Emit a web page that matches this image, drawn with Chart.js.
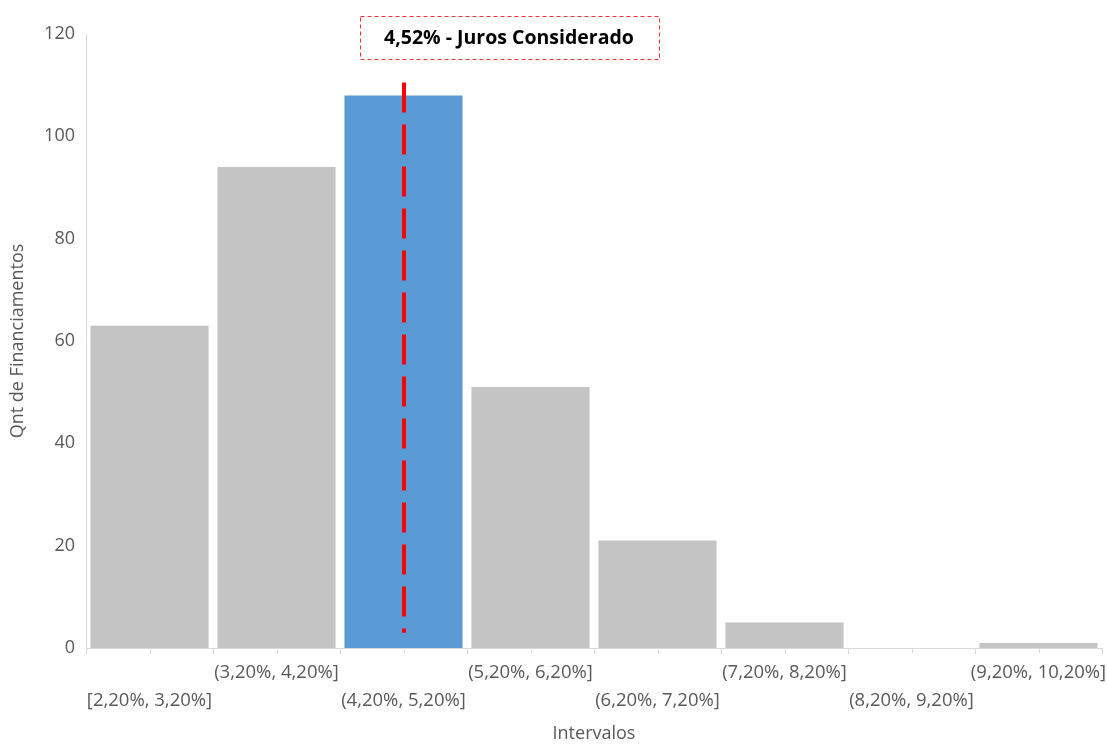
<!DOCTYPE html>
<html>
<head>
<meta charset="utf-8">
<script src="https://cdn.jsdelivr.net/npm/chart.js@4.4.1/dist/chart.umd.min.js"></script>
<style>
  html, body { margin: 0; padding: 0; background: #fff; }
  #wrap { width: 1107px; height: 745px; position: relative; }
</style>
</head>
<body>
<div id="wrap"><canvas id="histChart"></canvas></div>
<script>
// histogram of financing rates
const intervalLabels = [
  "[2,20%, 3,20%]", "(3,20%, 4,20%]", "(4,20%, 5,20%]", "(5,20%, 6,20%]",
  "(6,20%, 7,20%]", "(7,20%, 8,20%]", "(8,20%, 9,20%]", "(9,20%, 10,20%]"
];
const binStart = [2.2, 3.2, 4.2, 5.2, 6.2, 7.2, 8.2, 9.2];
const counts = [63, 94, 108, 51, 21, 5, 0, 1];
const yTicks = [0, 20, 40, 60, 80, 100, 120];

// rate used in the analysis and the span of its marker line
const jurosConsiderado = 4.52;
const markerRange = [3, 110.5];

const grayBar = "#C4C4C4";
const blueBar = "#5B9BD5";
const textGray = "#595959";
const fontFamily = "'Open Sans', sans-serif";

// find the interval that holds the considered rate
var highlightIdx = 0;
binStart.forEach(function(start, i) {
  if (jurosConsiderado > start) highlightIdx = i;
});

const barColors = counts.map(function(v, i) {
  return i === highlightIdx ? blueBar : grayBar;
});

// red dashed line over the highlighted bar, plus the boxed caption
const markerPlugin = {
  id: "marker",
  afterDatasetsDraw: function(chart) {
    const ctx = chart.ctx;
    const x = chart.scales.x;
    const y = chart.scales.y;
    const px = Math.round(x.getPixelForValue(highlightIdx));

    ctx.save();
    ctx.strokeStyle = "#FF0000";
    ctx.lineWidth = 4;
    ctx.setLineDash([30, 12]);
    ctx.beginPath();
    ctx.moveTo(px, y.getPixelForValue(markerRange[1]));
    ctx.lineTo(px, y.getPixelForValue(markerRange[0]));
    ctx.stroke();

    // caption box
    ctx.setLineDash([4, 3]);
    ctx.lineWidth = 1;
    ctx.strokeStyle = "#F03030";
    ctx.strokeRect(360.5, 16.5, 299, 43);
    ctx.fillStyle = "#000";
    ctx.font = "bold 19.5px " + fontFamily;
    ctx.textAlign = "center";
    ctx.textBaseline = "middle";
    ctx.fillText(jurosConsiderado.toFixed(2).replace(".", ",") + "% - Juros Considerado", 509, 38);
    ctx.restore();
  },
  // small ticks under the axis at each interval centre
  afterDraw: function(chart) {
    const ctx = chart.ctx;
    const x = chart.scales.x;
    const bottom = chart.chartArea.bottom;
    ctx.save();
    ctx.strokeStyle = "#D9D9D9";
    ctx.lineWidth = 1;
    intervalLabels.forEach(function(l, i) {
      const px = Math.round(x.getPixelForValue(i)) + 0.5;
      ctx.beginPath();
      ctx.moveTo(px, bottom);
      ctx.lineTo(px, bottom + 5);
      ctx.stroke();
    });
    ctx.restore();
  }
};

const chart = new Chart(document.getElementById("histChart"), {
  type: "bar",
  data: {
    labels: intervalLabels,
    datasets: [{
      data: counts,
      backgroundColor: barColors,
      barPercentage: 0.93,
      categoryPercentage: 1.0
    }]
  },
  options: {
    responsive: true,
    maintainAspectRatio: false,
    animation: false,
    layout: { padding: { top: 34, right: 5, left: 0, bottom: 0 } },
    plugins: {
      legend: { display: false },
      tooltip: { enabled: false }
    },
    scales: {
      x: {
        offset: true,
        grid: {
          offset: true,
          drawOnChartArea: false,
          drawTicks: true,
          tickLength: 6,
          color: "#D9D9D9"
        },
        border: { color: "#D9D9D9", width: 1 },
        ticks: {
          autoSkip: false,
          maxRotation: 0,
          minRotation: 0,
          color: textGray,
          padding: 5,
          font: { family: fontFamily, size: 18.5, lineHeight: 1.52 },
          // alternate the labels between two rows
          callback: function(value, index) {
            const l = intervalLabels[index];
            return index % 2 === 0 ? ["", l] : [l, ""];
          }
        },
        title: {
          display: true,
          text: "Intervalos",
          color: textGray,
          font: { family: fontFamily, size: 18 },
          padding: { top: 2, bottom: 0 }
        },
        afterFit: function(scale) {
          scale.height = 97;
          // the last label may run into the right margin
          scale.paddingLeft = 0;
          scale.paddingRight = 0;
        }
      },
      y: {
        min: 0,
        max: 120,
        afterBuildTicks: function(scale) {
          scale.ticks = yTicks.map(function(v) { return { value: v }; });
        },
        grid: { display: false, drawTicks: false },
        border: { color: "#D9D9D9", width: 1 },
        ticks: {
          color: textGray,
          padding: 11,
          font: { family: fontFamily, size: 18 }
        },
        title: {
          display: true,
          text: "Qnt de Financiamentos",
          color: textGray,
          font: { family: fontFamily, size: 18 },
          padding: { top: 7, bottom: 6 }
        },
        afterFit: function(scale) { scale.width = 86; }
      }
    }
  },
  plugins: [markerPlugin]
});
</script>
</body>
</html>
